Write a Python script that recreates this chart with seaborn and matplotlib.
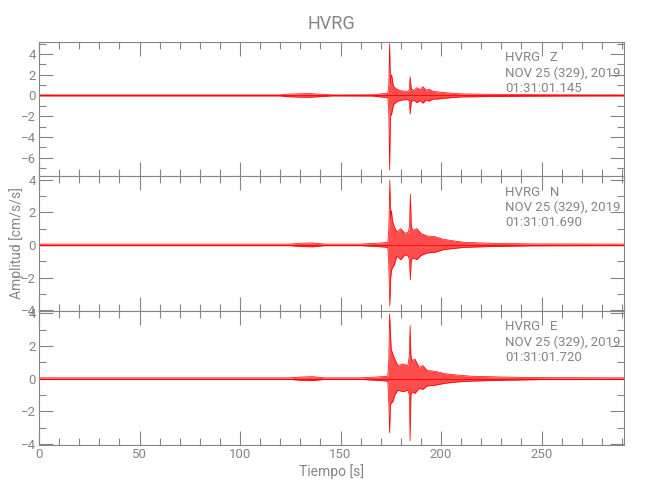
import numpy as np
import pandas as pd
import seaborn as sns
import matplotlib.pyplot as plt
from matplotlib.ticker import MultipleLocator

sns.set_theme(style="ticks")
plt.rcParams['font.family'] = ['Roboto', 'DejaVu Sans']

GREY = '#858585'

# envelope of each trace (time [s], upper, lower)
times_z = [0, 120, 123, 128, 134, 140, 146, 166, 170, 173.5, 174.0, 174.4, 174.8,
           175.4, 176.3, 178, 180, 183, 184.2, 184.6, 185.2, 186.5, 188, 189.5, 191,
           192.5, 194, 196, 198, 203, 210, 220, 240, 260, 291]
upper_z = [0.05, 0.05, 0.12, 0.15, 0.18, 0.12, 0.05, 0.06, 0.15, 0.2, 1.0, 5.0, 1.2,
           2.0, 0.9, 0.6, 0.45, 0.4, 0.5, 1.8, 0.6, 0.5, 0.75, 0.55, 0.85,
           0.5, 0.6, 0.4, 0.35, 0.25, 0.15, 0.12, 0.08, 0.06, 0.05]
lower_z = [-0.05, -0.05, -0.12, -0.15, -0.18, -0.12, -0.05, -0.06, -0.15, -0.2, -1.5, -7.2, -2.0,
           -1.8, -0.9, -0.6, -0.45, -0.4, -0.5, -1.8, -0.6, -0.45, -0.7, -0.5, -0.75,
           -0.45, -0.55, -0.35, -0.35, -0.25, -0.15, -0.12, -0.08, -0.06, -0.05]

times_n = [0, 125, 130, 136, 142, 160, 168, 173.5, 174.0, 174.5, 174.9, 175.3, 175.8,
           176.8, 178, 180, 182, 183.8, 184.3, 184.7, 185.2, 186, 188, 190, 193,
           197, 201, 206, 212, 225, 245, 291]
upper_n = [0.05, 0.05, 0.1, 0.12, 0.05, 0.05, 0.1, 0.15, 1.0, 3.95, 1.6, 2.1, 1.5,
           1.1, 0.8, 1.0, 0.7, 0.8, 1.2, 3.1, 1.1, 0.9, 1.0, 0.7, 0.55,
           0.5, 0.35, 0.25, 0.15, 0.1, 0.06, 0.05]
lower_n = [-0.05, -0.05, -0.1, -0.12, -0.05, -0.05, -0.1, -0.15, -1.2, -3.75, -2.1, -1.6, -1.4,
           -1.2, -0.7, -0.9, -0.6, -0.7, -1.0, -2.15, -0.9, -0.8, -0.9, -0.65, -0.5,
           -0.45, -0.3, -0.22, -0.15, -0.1, -0.06, -0.05]

times_e = [0, 125, 130, 136, 142, 160, 168, 173.5, 174.0, 174.4, 174.8, 175.2, 176,
           177, 178.5, 181, 183.5, 184.2, 184.6, 185.0, 185.6, 187, 189, 191, 193,
           197, 202, 208, 215, 230, 250, 291]
upper_e = [0.05, 0.05, 0.1, 0.12, 0.05, 0.05, 0.1, 0.15, 1.2, 3.95, 2.8, 1.8, 1.5,
           1.2, 0.8, 0.9, 0.8, 1.4, 3.25, 1.4, 1.1, 1.2, 0.7, 0.8, 0.5,
           0.45, 0.3, 0.22, 0.15, 0.1, 0.06, 0.05]
lower_e = [-0.05, -0.05, -0.1, -0.12, -0.05, -0.05, -0.1, -0.15, -1.5, -3.3, -1.6, -1.5, -1.4,
           -1.0, -0.7, -0.8, -0.7, -1.0, -3.8, -1.0, -0.8, -0.9, -0.6, -0.65, -0.45,
           -0.4, -0.28, -0.2, -0.15, -0.1, -0.06, -0.05]

labels = ["HVRG   Z\nNOV 25 (329), 2019\n01:31:01.145",
          "HVRG   N\nNOV 25 (329), 2019\n01:31:01.690",
          "HVRG   E\nNOV 25 (329), 2019\n01:31:01.720"]
ylims = [(-7.8, 5.15), (-4.03, 4.2), (-4.05, 4.15)]

traces = [(times_z, upper_z, lower_z), (times_n, upper_n, lower_n), (times_e, upper_e, lower_e)]

fig = plt.figure(figsize=(6.5, 5), dpi=100)
axes = fig.subplots(3, 1, sharex=True, gridspec_kw=dict(hspace=0))
fig.subplots_adjust(left=0.06, right=0.96, top=0.916, bottom=0.11)

for ax, (t, up, lo), lab, yl in zip(axes, traces, labels, ylims):
    df = pd.DataFrame({"t": t, "up": up, "lo": lo})
    ax.fill_between(df["t"], df["lo"], df["up"], color='red', alpha=0.7, lw=0)
    sns.lineplot(data=df, x="t", y="up", ax=ax, color='red', lw=0.5, estimator=None)
    sns.lineplot(data=df, x="t", y="lo", ax=ax, color='red', lw=0.5, estimator=None)
    ax.axhline(0, color='red', lw=0.6)
    ax.set_xlim(0, 291)
    ax.set_ylim(*yl)
    ax.set_xlabel("")
    ax.set_ylabel("")
    ax.xaxis.set_major_locator(MultipleLocator(50))
    ax.xaxis.set_minor_locator(MultipleLocator(10))
    ax.yaxis.set_major_locator(MultipleLocator(2))
    ax.yaxis.set_minor_locator(MultipleLocator(1))
    ax.tick_params(which='both', direction='in', top=True, right=True, color=GREY,
                   labelcolor=GREY, labelsize=9.5, width=0.8, pad=2)
    ax.tick_params(which='major', length=10)
    ax.tick_params(which='minor', length=5)
    for s in ax.spines.values():
        s.set_color(GREY)
        s.set_linewidth(0.8)
    ax.text(0.797, 0.93, lab, transform=ax.transAxes, va='top', ha='left',
            fontsize=9.5, color=GREY, linespacing=1.2)

axes[-1].set_xlabel("Tiempo [s]", color=GREY, fontsize=10, labelpad=2)
fig.text(0.026, 0.513, "Amplitud [cm/s/s]", rotation=90, va='center', ha='center',
         color=GREY, fontsize=10)
fig.suptitle("HVRG", y=0.97, x=0.51, color=GREY, fontsize=13)

fig.savefig("out.png", dpi=100)
